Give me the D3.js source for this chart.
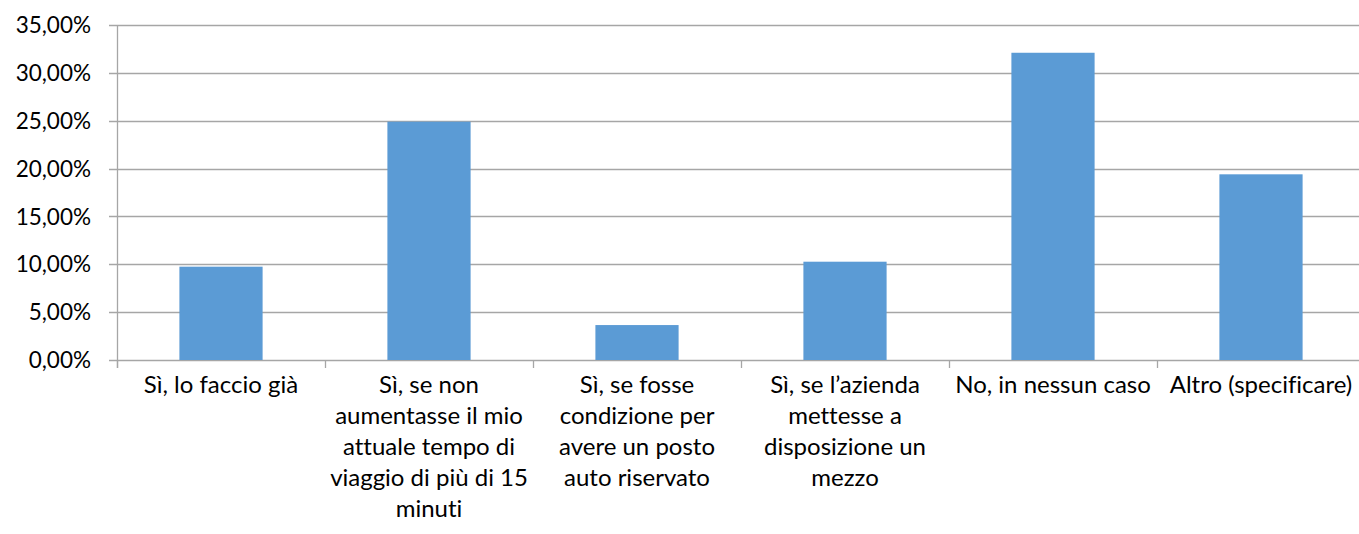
<!DOCTYPE html>
<html>
<head>
<meta charset="utf-8">
<script src="https://cdn.jsdelivr.net/npm/d3@7"></script>
<style>
  html, body { margin: 0; padding: 0; background: #fff; }
  text { font-family: Lato, "Open Sans", sans-serif; fill: #000; font-variant-ligatures: none; }
</style>
</head>
<body>
<svg id="chart" width="1359" height="534"></svg>
<script>
'use strict'

// categories (line breaks as in the original axis labels)
var categories = [
  'Sì, lo faccio già',
  'Sì, se non\naumentasse il mio\nattuale tempo di\nviaggio di più di 15\nminuti',
  'Sì, se fosse\ncondizione per\navere un posto\nauto riservato',
  'Sì, se l’azienda\nmettesse a\ndisposizione un\nmezzo',
  'No, in nessun caso',
  'Altro (specificare)'
]
var values = [9.75, 24.9, 3.65, 10.27, 32.1, 19.4]
var yTicks = [0, 5, 10, 15, 20, 25, 30, 35]

var margin = { top: 25, left: 117, bottom: 174 }
var plotWidth = 1248
var plotHeight = 335

var svg = d3.select('#chart')
var g = svg.append('g').attr('transform', 'translate(' + margin.left + ',' + margin.top + ')')

var x = d3.scaleBand()
  .domain(categories)
  .range([0, plotWidth])
  .paddingInner(0.6)
  .paddingOuter(0.3)

var y = d3.scaleLinear()
  .domain([0, 35])
  .range([plotHeight, 0])

var fmt = function (d) { return d.toFixed(2).replace('.', ',') + '%' }

// Gridlines
g.append('g')
  .selectAll('line')
  .data(yTicks)
  .enter().append('line')
    .attr('x1', -8)
    .attr('x2', plotWidth)
    .attr('y1', (d) => Math.round(y(d)) + 0.5)
    .attr('y2', (d) => Math.round(y(d)) + 0.5)
    .attr('stroke', '#a6a6a6')
    .attr('stroke-width', 1.3)

// Y labels
g.append('g')
  .selectAll('text')
  .data(yTicks)
  .enter().append('text')
    .attr('x', -26)
    .attr('y', (d) => y(d))
    .attr('dy', '0.36em')
    .attr('text-anchor', 'end')
    .style('font-size', '22.5px')
    .text(fmt)

// Bars
g.append('g')
  .selectAll('rect')
  .data(values)
  .enter().append('rect')
    .attr('x', (d, i) => x(categories[i]))
    .attr('y', (d) => y(d))
    .attr('width', x.bandwidth())
    .attr('height', (d) => plotHeight - y(d))
    .attr('fill', '#5b9bd5')

// Axis lines
g.append('line')
  .attr('x1', 0.5).attr('x2', 0.5)
  .attr('y1', 0).attr('y2', plotHeight + 8)
  .attr('stroke', '#a6a6a6')
  .attr('stroke-width', 1.3)

var boundaries = d3.range(categories.length + 1).map((i) => i * plotWidth / categories.length)
g.append('g')
  .selectAll('line')
  .data(boundaries)
  .enter().append('line')
    .attr('x1', (d) => Math.round(d) + 0.5)
    .attr('x2', (d) => Math.round(d) + 0.5)
    .attr('y1', plotHeight)
    .attr('y2', plotHeight + 8)
    .attr('stroke', '#a6a6a6')
    .attr('stroke-width', 1.3)

// Category labels
var labels = g.append('g')
  .selectAll('text')
  .data(categories)
  .enter().append('text')
    .attr('text-anchor', 'middle')
    .attr('transform', (d) => 'translate(' + (x(d) + x.bandwidth() / 2) + ',' + (plotHeight + 33) + ')')
    .style('font-size', '24px')

labels.selectAll('tspan')
  .data((d) => d.split('\n'))
  .enter().append('tspan')
    .attr('x', 0)
    .attr('y', (d, i) => i * 31)
    .text((d) => d)
</script>
</body>
</html>
